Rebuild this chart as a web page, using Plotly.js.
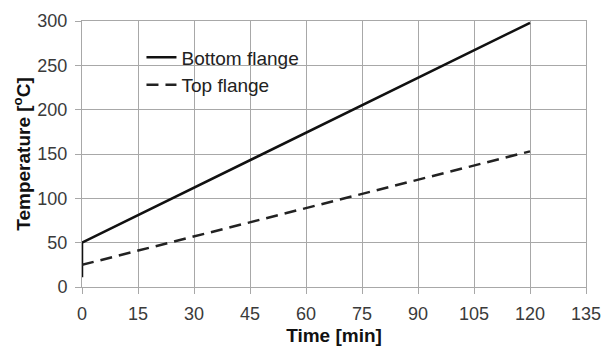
<!DOCTYPE html>
<html>
<head>
<meta charset="utf-8">
<script src="https://cdn.plot.ly/plotly-3.0.1.min.js"></script>
<style>html,body{margin:0;padding:0;background:#fff;}#chart{width:611px;height:347px;}</style>
</head>
<body>
<div id="chart"></div>
<script>
const seriesNames = ["Bottom flange", "Top flange"];
const bottomTime = [0, 0, 120];
const bottomTemp = [11, 50, 298];
const topTime = [0, 120];
const topTemp = [25, 153];
const xTicks = [0, 15, 30, 45, 60, 75, 90, 105, 120, 135];
const yTicks = [0, 50, 100, 150, 200, 250, 300];

const traces = [
  {x: bottomTime, y: bottomTemp, name: seriesNames[0], mode: "lines",
   line: {color: "#111", width: 2.5}},
  {x: topTime, y: topTemp, name: seriesNames[1], mode: "lines",
   line: {color: "#222", width: 2.5, dash: "12px,7px"}}
];

const axisCommon = {
  showgrid: true, gridcolor: "#a8a8a8", gridwidth: 1,
  showline: true, linecolor: "#a8a8a8", linewidth: 1, mirror: true,
  ticks: "outside", ticklen: 6, tickcolor: "#a8a8a8",
  ticklabelstandoff: 4,
  zeroline: false,
  tickfont: {family: "Liberation Sans, Arial, sans-serif", size: 18, color: "#3a3a3a"}
};

const layout = {
  width: 611, height: 347,
  margin: {l: 82, r: 25, t: 21, b: 60},
  paper_bgcolor: "#fff", plot_bgcolor: "#fff",
  showlegend: true,
  legend: {x: 0.118, y: 0.935, xanchor: "left", yanchor: "top", bgcolor: "rgba(0,0,0,0)",
    font: {family: "Liberation Sans, Arial, sans-serif", size: 19, color: "#222"}},
  xaxis: Object.assign({}, axisCommon, {
    range: [0, 135], tickvals: xTicks,
    title: {text: "Time [min]", standoff: 6,
      font: {family: "Liberation Sans, Arial, sans-serif", size: 19, color: "#111", weight: "bold"}}
  }),
  yaxis: Object.assign({}, axisCommon, {
    range: [0, 300], tickvals: yTicks,
    title: {text: "Temperature [<sup>o</sup>C]", standoff: 1,
      font: {family: "Liberation Sans, Arial, sans-serif", size: 19, color: "#111", weight: "bold"}}
  })
};

Plotly.newPlot("chart", traces, layout, {displayModeBar: false, staticPlot: true});
</script>
</body>
</html>
